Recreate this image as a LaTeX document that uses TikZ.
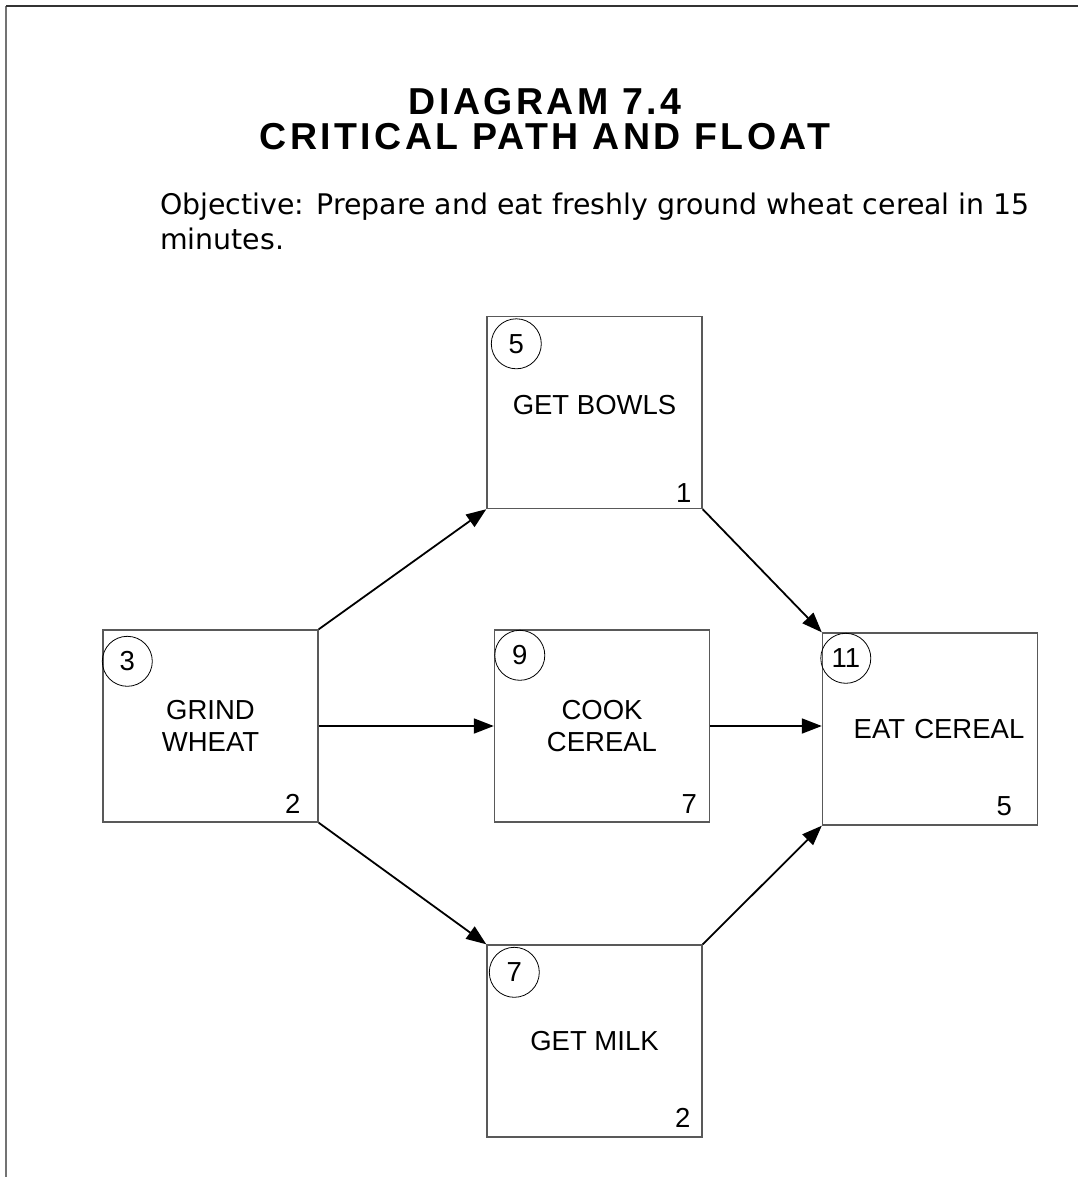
\documentclass[tikz,border=0pt]{standalone}
\usepackage{fontspec}
\setmainfont{Liberation Sans}
\newfontfamily\objfont{DejaVu Sans}
\newfontfamily\titlefont[LetterSpace=9.0]{Liberation Sans}
\usepackage{tikz}
\usetikzlibrary{arrows.meta, positioning, calc}

\begin{document}
\begin{tikzpicture}[x=1pt, y=-1pt, >={Triangle[length=20pt, width=15pt]},
  task/.style={draw=black!65, line width=1.4pt, rectangle, minimum width=215pt, minimum height=192pt,
    align=center, font=\fontsize{27.5}{32}\selectfont},
  num/.style={draw, circle, line width=0.8pt, minimum size=50pt, inner sep=0pt, font=\fontsize{27.5}{30}\selectfont},
  dur/.style={draw=none, inner sep=0pt, font=\fontsize{27.5}{30}\selectfont},
  link/.style={->, line width=1.8pt}]

  \useasboundingbox (0,0) rectangle (1078,1177);

  % Frame of the page (top and left edges only)
  \draw[black!55, line width=1.8pt] (6,1177) -- (6,6);
  \draw[black!80, line width=1.6pt] (6,6) -- (1078,6);

  % Heading and objective
  \node[align=center, font=\titlefont\bfseries\fontsize{37.5}{35}\selectfont] (title) at (545,119) {DIAGRAM 7.4\\CRITICAL PATH AND FLOAT};
  \node[anchor=base west, align=left, inner sep=0pt, font=\objfont\fontsize{28.4}{35}\selectfont] (objective) at (160,249)
    {Objective: Prepare and eat freshly ground wheat cereal in 15\\minutes.};

  % Activity boxes
  \node[task] (grind) at (210.5,726) {GRIND\\WHEAT};
  \node[task] (bowls) at (594.5,412.5) {\raisebox{5pt}[0.7em][0.2em]{GET BOWLS}};
  \node[task, text width=190pt] (eat) at (930,729) {\hspace*{18pt}EAT CEREAL};
  \node[task] (cook) at (602,726) {\raisebox{-3pt}[0.7em][0.2em]{COOK}\\\raisebox{-3pt}[0.7em][0.2em]{CEREAL}};
  \node[task] (milk) at (594.5,1041) {GET MILK};

  % Event numbers in circles
  \node[num] (grindnum) at ([xshift=25pt, yshift=-32pt]grind.north west) {3};
  \node[num] (bowlsnum) at ([xshift=30pt, yshift=-28pt]bowls.north west) {5};
  \node[num] (cooknum) at ([xshift=26pt, yshift=-26pt]cook.north west) {9};
  \node[num] (eatnum) at ([xshift=24pt, yshift=-26pt]eat.north west) {11};
  \node[num] (milknum) at ([xshift=28pt, yshift=-28pt]milk.north west) {7};

  % Durations
  \node[dur] (grinddur) at ([xshift=-26pt, yshift=19pt]grind.south east) {2};
  \node[dur] (bowlsdur) at ([xshift=-19pt, yshift=16pt]bowls.south east) {1};
  \node[dur] (cookdur) at ([xshift=-21pt, yshift=19pt]cook.south east) {7};
  \node[dur] (eatdur) at ([xshift=-34pt, yshift=20pt]eat.south east) {5};
  \node[dur] (milkdur) at ([xshift=-20pt, yshift=20pt]milk.south east) {2};

  % Precedence arrows
  \draw[link] (grind.north east) -- (bowls.south west);
  \draw[link] (grind.east) -- (cook.west);
  \draw[link] (grind.south east) -- (milk.north west);
  \draw[link] (bowls.south east) -- (eat.north west);
  \draw[link] (cook.east) -- (cook.east -| eat.west);
  \draw[link] (milk.north east) -- (eat.south west);

\end{tikzpicture}
\end{document}
